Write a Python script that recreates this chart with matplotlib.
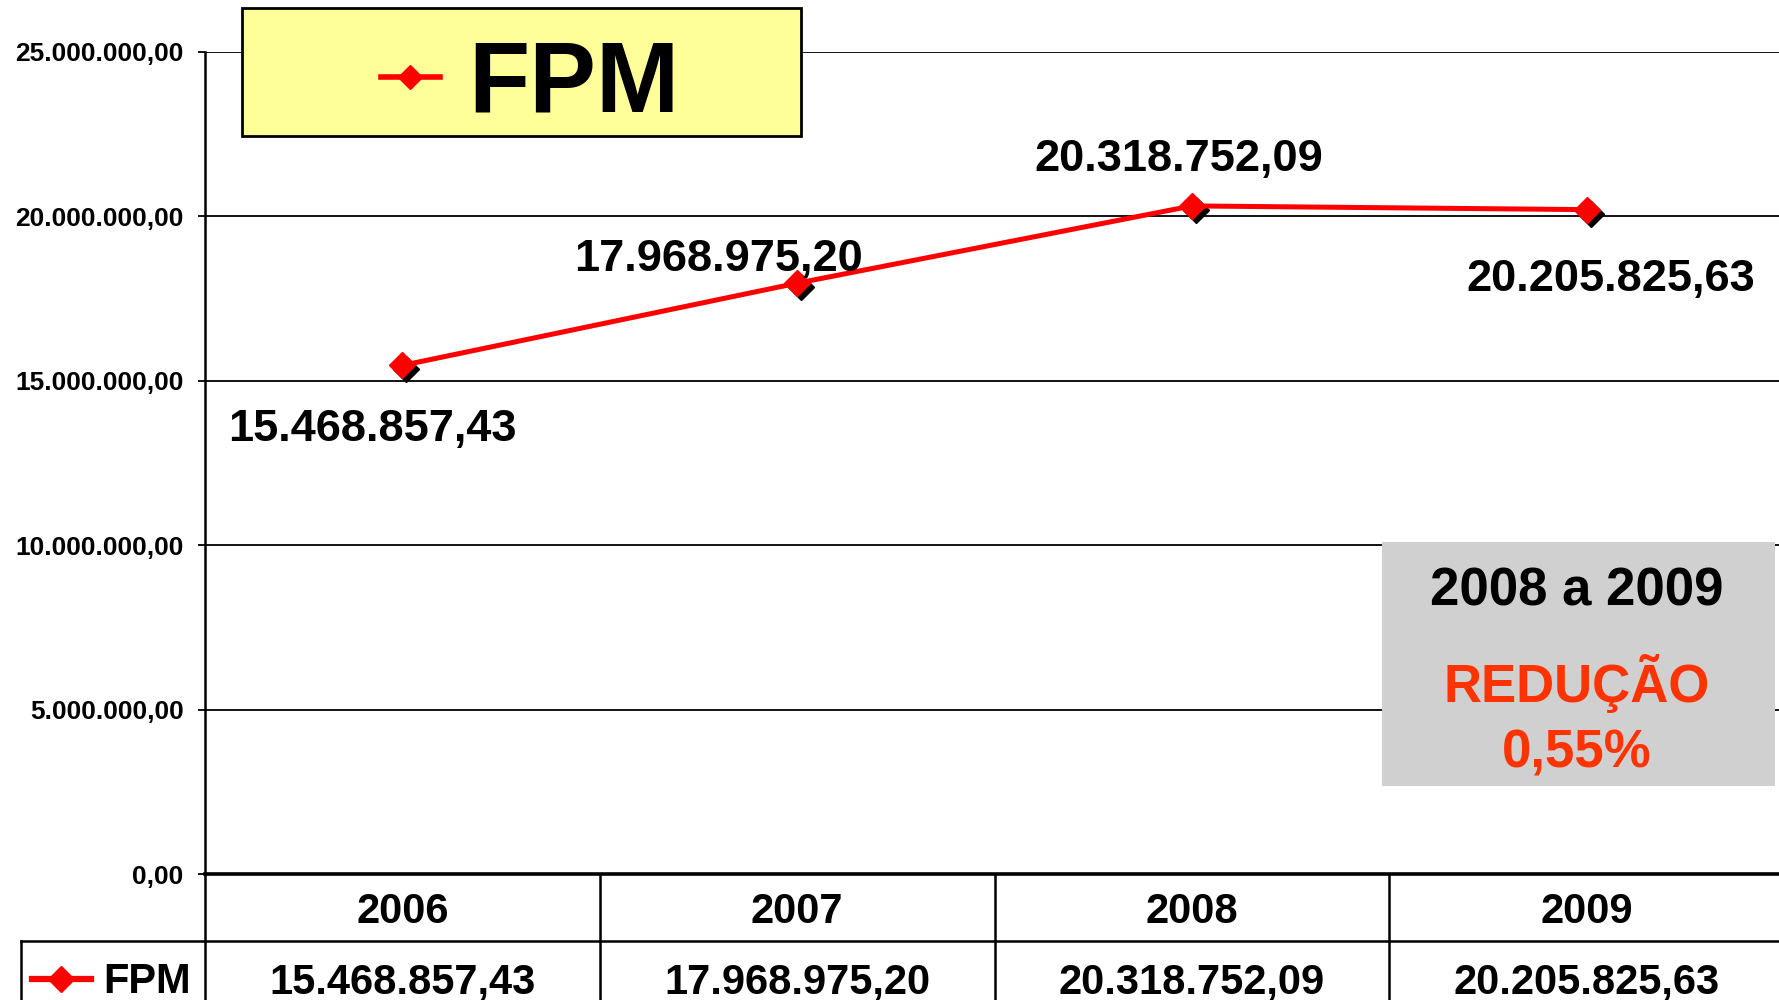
import numpy as np
import matplotlib
matplotlib.use("Agg")
import matplotlib.pyplot as plt
from matplotlib.patches import Rectangle
from matplotlib.lines import Line2D
from matplotlib.transforms import offset_copy, blended_transform_factory

# ---- data ----
years = ['2006', '2007', '2008', '2009']
values = [15468857.43, 17968975.20, 20318752.09, 20205825.63]
value_labels = ['15.468.857,43', '17.968.975,20', '20.318.752,09', '20.205.825,63']
ytick_values = [0, 5e6, 10e6, 15e6, 20e6, 25e6]
ytick_labels = ['0,00', '5.000.000,00', '10.000.000,00', '15.000.000,00',
                '20.000.000,00', '25.000.000,00']
series_name = 'FPM'
box_title = '2008 a 2009'
box_line1 = 'REDUÇÃO'
box_line2 = '0,55%'

plt.rcParams['font.family'] = ['Liberation Sans', 'DejaVu Sans']
plt.rcParams['font.weight'] = 'bold'

RED = '#FF0000'
W, H = 1779, 1000
fig = plt.figure(figsize=(W / 100, H / 100), dpi=100)

def fx(px):
    return px / W

def fy(py):
    return 1 - py / H

# axes: left at 205px, y=0 at 874px, y=25M at 52px, category width ~395px
ax = fig.add_axes([fx(205), fy(874), 1579 / W, 822 / H])
x = np.arange(len(years))
ax.set_xlim(-0.5, len(years) - 0.5)
ax.set_ylim(0, 25e6)
ax.set_yticks(ytick_values)
ax.set_yticklabels(ytick_labels, fontsize=19, fontweight='bold')
ax.set_xticks([])
ax.tick_params(axis='y', length=5, width=1.3, pad=10.5, colors='black')
ax.grid(axis='y', color='black', lw=1.3)
ax.set_axisbelow(True)
for s in ['top', 'right']:
    ax.spines[s].set_visible(False)
ax.spines['bottom'].set_linewidth(2.6)
ax.spines['left'].set_linewidth(1.8)

# shadow markers
shadow = offset_copy(ax.transData, fig=fig, x=4, y=-4, units='dots')
ax.plot(x, values, linestyle='none', marker='D', ms=13, color='black',
        transform=shadow, zorder=3, clip_on=False)
ax.plot(x, values, color=RED, lw=3.6, marker='D', ms=13, mec=RED, mfc=RED,
        zorder=4, clip_on=False)

# data labels (offsets in pixels from the point, baseline anchored)
label_offsets = [(-30, -76), (-79, 12), (-13, 35), (24, -81)]
for xi, v, lab, (dx, dy) in zip(x, values, value_labels, label_offsets):
    ax.annotate(lab, (xi, v), xytext=(dx, dy), textcoords='offset pixels',
                ha='center', va='baseline', fontsize=32.5, fontweight='bold',
                color='black', zorder=5, annotation_clip=False)

# ---- data table under the axis ----
bt = blended_transform_factory(ax.transData, ax.transAxes)

def ay(py):
    return (874 - py) / 822

lw_t = 1.8
# left spine extended downward
ax.add_line(Line2D([-0.5, -0.5], [0, ay(1005)], transform=bt, color='black',
                   lw=lw_t, clip_on=False))
# vertical separators
for b in np.arange(0.5, len(years) - 0.5, 1.0):
    ax.add_line(Line2D([b, b], [0, ay(1005)], transform=bt, color='black',
                       lw=lw_t, clip_on=False))
# horizontal separator between header and values row
fig.add_artist(Line2D([fx(21), 1.0], [fy(941), fy(941)], color='black', lw=lw_t))
fig.add_artist(Line2D([fx(21), fx(21)], [fy(941), fy(1005)], color='black', lw=lw_t))

for xi, yr, lab in zip(x, years, value_labels):
    ax.text(xi, ay(923), yr, transform=bt, ha='center', va='baseline',
            fontsize=30, fontweight='bold', clip_on=False)
    ax.text(xi, ay(993), lab, transform=bt, ha='center', va='baseline',
            fontsize=30, fontweight='bold', clip_on=False)

# legend key in table row
fig.add_artist(Line2D([fx(32), fx(91)], [fy(979), fy(979)], color=RED, lw=4.5))
fig.add_artist(Line2D([fx(61)], [fy(979)], color=RED, marker='D', ms=13,
                      mec=RED, mfc=RED))
fig.text(fx(103), fy(993), series_name, ha='left', va='baseline',
         fontsize=30, fontweight='bold')

# ---- yellow legend box ----
fig.add_artist(Rectangle((fx(242), fy(136)), 559 / W, 128 / H,
                         transform=fig.transFigure, facecolor='#FFFF99',
                         edgecolor='black', lw=2, zorder=6))
fig.add_artist(Line2D([fx(381), fx(440)], [fy(77), fy(77)], color=RED, lw=4,
                      zorder=7))
fig.add_artist(Line2D([fx(410)], [fy(77)], color=RED, marker='D', ms=12,
                      mec=RED, mfc=RED, zorder=7))
fig.text(fx(468), fy(112), series_name, ha='left', va='baseline',
         fontsize=72, fontweight='bold', zorder=8)

# ---- grey annotation box ----
fig.add_artist(Rectangle((fx(1382), fy(786)), 393 / W, 244 / H,
                         transform=fig.transFigure, facecolor='#D0D0D0',
                         edgecolor='none', zorder=6))
cx = fx(1577)
fig.text(cx, fy(605), box_title, ha='center', va='baseline', fontsize=38,
         fontweight='bold', color='black', zorder=8)
fig.text(cx, fy(702), box_line1, ha='center', va='baseline', fontsize=38,
         fontweight='bold', color='#FF3300', zorder=8)
fig.text(cx, fy(767), box_line2, ha='center', va='baseline', fontsize=38,
         fontweight='bold', color='#FF3300', zorder=8)

fig.savefig('out.png', dpi=100, facecolor='white')
